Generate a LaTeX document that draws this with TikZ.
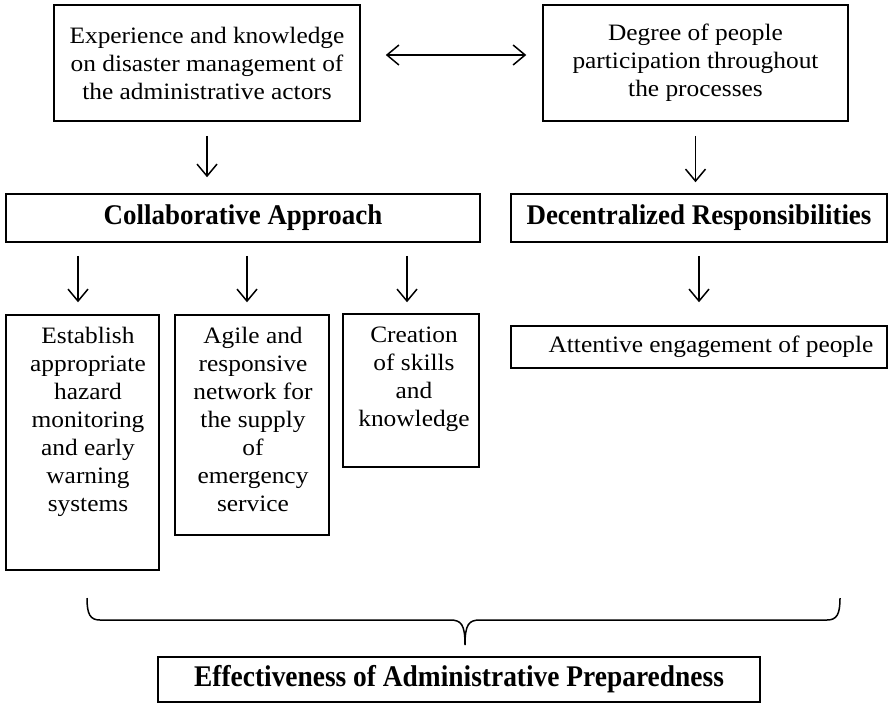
\documentclass[tikz,border=0pt]{standalone}
\usepackage{fontspec}
\setmainfont{Liberation Serif}
\newfontfamily\bodyfont[FakeStretch=1.08]{Liberation Serif}
\newfontfamily\headfont[FakeStretch=0.945]{Liberation Serif Bold}
\newfontfamily\resultfont[FakeStretch=0.914]{Liberation Serif Bold}
\usetikzlibrary{arrows.meta}
\begin{document}
\begin{tikzpicture}[x=1pt,y=-1pt,
  frame/.style={draw, line width=1.5pt, inner sep=0pt},
  body/.style={font=\bodyfont\fontsize{23.5}{28}\selectfont, align=center, inner sep=0pt},
  head/.style={font=\headfont\fontsize{28.5}{34}\selectfont, inner sep=0pt},
  flow/.style={line width=1.5pt, -{Straight Barb[length=12pt,width=20pt]}},
  both/.style={line width=1.5pt, {Straight Barb[length=12pt,width=20pt]}-{Straight Barb[length=12pt,width=20pt]}},
  brace/.style={line width=1.5pt},
]
\useasboundingbox (0,0) rectangle (888,704);

% top row
\node[frame, body, minimum width=306pt, minimum height=116pt] (exp) at (207,63)
  {Experience and knowledge\\on disaster management of\\the administrative actors};
\node[frame, body, minimum width=305pt, minimum height=116pt] (deg) at (695.5,63)
  {Degree of people\\participation throughout\\the processes};
\draw[both, shorten <=25pt, shorten >=16pt] (exp.east |- 0,55) -- (deg.west |- 0,55);

% second row
\node[frame, head, minimum width=474pt, minimum height=48pt] (col) at (243,218)
  {Collaborative Approach};
\node[frame, head, minimum width=376pt, minimum height=48pt] (dec) at (699,218)
  {Decentralized Responsibilities};
\draw[flow, shorten <=14pt, shorten >=16pt] (exp.south) -- (exp.south |- col.north);
\draw[flow, shorten <=14pt, shorten >=11pt] (deg.south) -- (deg.south |- dec.north);

% third row
\node[frame, minimum width=153pt, minimum height=255pt] (haz) at (82.5,442.5) {};
\node[frame, minimum width=154pt, minimum height=220pt] (net) at (252,425) {};
\node[frame, minimum width=136pt, minimum height=153pt] (skl) at (411,390.5) {};
\node[frame, minimum width=376pt, minimum height=42pt] (att) at (699,347) {};

\node[body, anchor=north] (hazT) at (88,327)
  {Establish\\appropriate\\hazard\\monitoring\\and early\\warning\\systems};
\node[body, anchor=north] (netT) at (253,327)
  {Agile and\\responsive\\network for\\the supply\\of\\emergency\\service};
\node[body, anchor=north] (sklT) at (414,327)
  {Creation\\of skills\\and\\knowledge};
\node[body] (attT) at (711,347) {Attentive engagement of people};

\draw[flow, shorten <=13pt, shorten >=12pt] (col.south -| 78,0) -- (haz.north -| 78,0);
\draw[flow, shorten <=13pt, shorten >=12pt] (col.south -| 247,0) -- (net.north -| 247,0);
\draw[flow, shorten <=13pt, shorten >=11pt] (col.south -| 407,0) -- (skl.north -| 407,0);
\draw[flow, shorten <=13pt, shorten >=23pt] (dec.south) -- (dec.south |- att.north);

% brace gathering everything above
\coordinate (bl) at (87,598);
\coordinate (br) at (840,598);
\coordinate (tip) at (465,645);
\draw[brace] (bl) .. controls (87,614) and (90,620) .. (100,620) -- (450,620)
  .. controls (461,620) and (465,624) .. (tip)
  .. controls (465,624) and (469,620) .. (480,620) -- (827,620)
  .. controls (837,620) and (840,614) .. (br);

% result
\node[frame, minimum width=602pt, minimum height=45pt] (eff) at (459,679.5)
  {\resultfont\fontsize{30}{34}\selectfont Effectiveness of Administrative Preparedness};
\end{tikzpicture}
\end{document}
